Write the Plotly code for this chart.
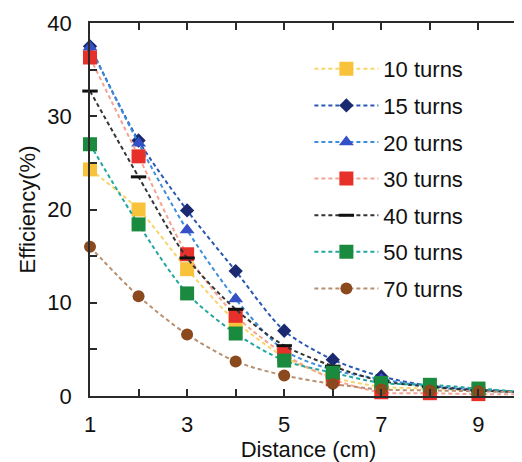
import plotly.graph_objects as go

distance = [1, 2, 3, 4, 5, 6, 7, 8, 9, 10]
turns_10 = [24.3, 20.0, 13.6, 8.0, 4.2, 2.0, 1.0, 0.8, 0.6, 0.4]
turns_15 = [37.5, 27.4, 19.9, 13.4, 7.0, 3.9, 2.1, 1.1, 0.7, 0.4]
turns_20 = [37.4, 27.1, 17.8, 10.4, 4.9, 2.8, 1.8, 1.0, 0.6, 0.4]
turns_30 = [36.3, 25.7, 15.2, 8.6, 4.5, 1.8, 0.4, 0.3, 0.2, 0.2]
turns_40 = [32.7, 23.5, 14.8, 9.3, 5.4, 3.2, 1.6, 1.0, 0.6, 0.4]
turns_50 = [27.0, 18.4, 11.0, 6.7, 3.8, 2.5, 1.4, 1.2, 0.8, 0.4]
turns_70 = [16.0, 10.7, 6.6, 3.7, 2.2, 1.3, 0.7, 0.6, 0.5, 0.4]

x_tick_vals = [1, 2, 3, 4, 5, 6, 7, 8, 9, 10]
x_tick_text = ["1", "", "3", "", "5", "", "7", "", "9", ""]
y_tick_vals = [0, 5, 10, 15, 20, 25, 30, 35, 40]
y_tick_text = ["0", "", "10", "", "20", "", "30", "", "40"]

series = [
    ("10 turns", turns_10, "#F6D66A", "#F8C33A", "square", 14, 0),
    ("15 turns", turns_15, "#2A58B0", "#1B2A70", "diamond", 11, 0),
    ("20 turns", turns_20, "#3C8EDC", "#3450C4", "triangle-up", 13, 0),
    ("30 turns", turns_30, "#F4A393", "#E8302A", "square", 14, 0),
    ("40 turns", turns_40, "#333333", "#111111", "line-ew", 11, 3),
    ("50 turns", turns_50, "#22A6A0", "#1A8A3E", "square", 14, 0),
    ("70 turns", turns_70, "#B89070", "#8A4A1E", "circle", 12, 0),
]

FONT = "Liberation Sans, Arial"

fig = go.Figure()
for name, ys, lc, mc, sym, sz, lw in series:
    marker = dict(symbol=sym, size=sz, color=mc)
    if sym == "line-ew":
        marker["line"] = dict(color=mc, width=lw)
    else:
        marker["line"] = dict(width=0)
    fig.add_trace(go.Scatter(
        x=distance, y=ys, name=name, mode="lines+markers",
        line=dict(color=lc, width=2, dash="4px,3px", shape="spline", smoothing=0.8),
        marker=marker, cliponaxis=False, legendgroup=name,
    ))

axis_common = dict(
    showline=True, linecolor="#2a2a2a", linewidth=1.5, mirror="ticks",
    ticks="inside", ticklen=7, tickwidth=1.5, tickcolor="#2a2a2a",
    showgrid=False, zeroline=False, automargin=False,
    tickfont=dict(family=FONT, size=22, color="#111111"),
)

fig.update_layout(
    width=522, height=462,
    margin=dict(l=82, r=3, t=15, b=74),
    paper_bgcolor="white", plot_bgcolor="white",
    xaxis=dict(range=[1, 10], tickvals=x_tick_vals, ticktext=x_tick_text,
               ticklabelstandoff=8,
               title=dict(text="Distance (cm)", standoff=2,
                          font=dict(family=FONT, size=22, color="#111111")),
               **axis_common),
    yaxis=dict(range=[0, 40], tickvals=y_tick_vals, ticktext=y_tick_text,
               ticklabelstandoff=12,
               title=dict(text="Efficiency(%)", standoff=6,
                          font=dict(family=FONT, size=22, color="#111111")),
               **axis_common),
    legend=dict(x=0.502, y=0.933, xanchor="left", yanchor="top",
                bgcolor="rgba(255,255,255,0)", itemwidth=64,
                tracegroupgap=5,
                font=dict(family=FONT, size=22, color="#111111")),
    showlegend=True,
)

fig.write_html("out.html")
